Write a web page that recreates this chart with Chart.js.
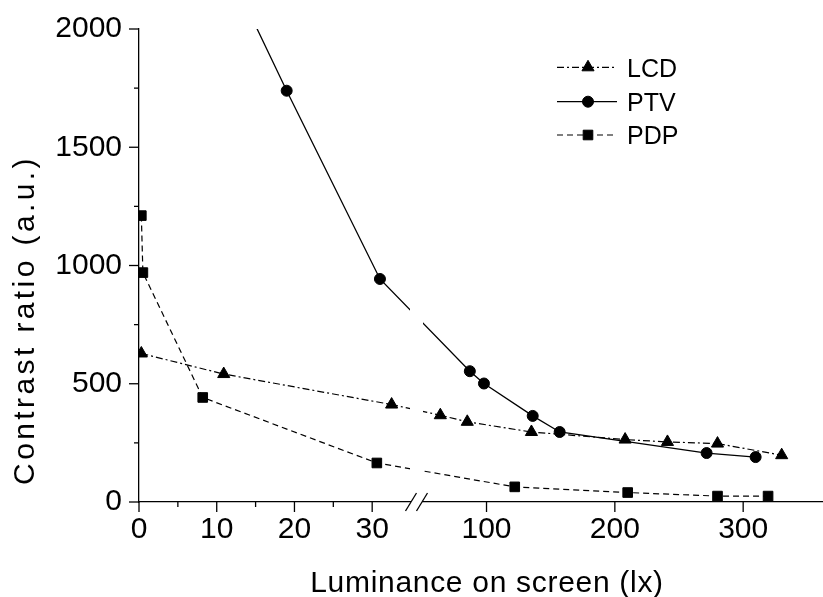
<!DOCTYPE html>
<html><head><meta charset="utf-8">
<script src="https://cdn.jsdelivr.net/npm/chart.js@4.4.1/dist/chart.umd.min.js"></script>
<style>html,body{margin:0;padding:0;background:#fff;}canvas{display:block;}</style>
</head><body>
<canvas id="c" width="823" height="597"></canvas>
<script>
// ---- data ----
const seriesNames = ['LCD', 'PTV', 'PDP'];
const lcdX = [0.3, 10.9, 32.5, 64, 85, 135, 208, 241, 280, 330];
const lcdY = [628, 541, 412, 367, 339, 296, 264, 254, 247, 198];
const ptvX = [12, 19.0, 31.0, 87, 98, 136, 157, 271.5, 309.7];
const ptvY = [2220, 1739, 943, 553, 501, 364, 296, 207, 190];
const pdpX = [0.3, 0.5, 8.2, 30.6, 122, 210, 280, 319.4];
const pdpY = [1211, 970, 442, 165, 64, 40, 25, 25];
const xTickValues = [0, 10, 20, 30, 100, 200, 300];
const xTickLabels = ['0', '10', '20', '30', '100', '200', '300'];
const xMinorTicks = [5, 15, 25];
const yTickValues = [0, 500, 1000, 1500, 2000];
const yTickLabels = ['0', '500', '1000', '1500', '2000'];
const yMinorTicks = [250, 750, 1250, 1750];
const xTitle = 'Luminance on screen (lx)';
const yTitle = 'Contrast ratio (a.u.)';

// ---- broken x axis: segment 1 (0..~36) linear, segment 2 (~50..350) compressed ----
const SPLIT = 40, SEG2_ORIGIN = 100, SEG2_AT = 44.71, SEG2_SCALE = 0.1651;
function toAxis(x) { return x < SPLIT ? x : SEG2_AT + (x - SEG2_ORIGIN) * SEG2_SCALE; }
const BREAK_L = 410, BREAK_R = 423;

const FONT = "'Liberation Sans', Arial, Helvetica, sans-serif";
const pts = (xs, ys) => xs.map((x, i) => ({ x: toAxis(x), y: ys[i] }));

const styles = [
  { dash: [7, 3, 2, 3], point: 'triangle', r: 7, lw: 1.2 },
  { dash: [], point: 'circle', r: 5.5, lw: 1.3 },
  { dash: [6, 4], point: 'rect', r: 6.8, lw: 1.2 }
];
const seriesData = [pts(lcdX, lcdY), pts(ptvX, ptvY), pts(pdpX, pdpY)];

function drawMarker(ctx, style, x, y, r) {
  ctx.beginPath();
  if (style === 'triangle') {
    for (let k = 0; k < 3; k++) {
      const a = k * 2 * Math.PI / 3;
      const px = x + Math.sin(a) * r, py = y - Math.cos(a) * r;
      k ? ctx.lineTo(px, py) : ctx.moveTo(px, py);
    }
    ctx.closePath();
  } else if (style === 'circle') {
    ctx.arc(x, y, r, 0, Math.PI * 2);
  } else {
    const s = Math.SQRT1_2 * r;
    ctx.rect(x - s, y - s, 2 * s, 2 * s);
  }
  ctx.fill(); ctx.stroke();
}

const decor = {
  id: 'decor',
  afterDatasetsDraw(chart) {
    const { ctx, chartArea } = chart;
    ctx.save();
    ctx.fillStyle = '#fff';
    ctx.fillRect(BREAK_L, chartArea.top - 2, BREAK_R - BREAK_L, chartArea.bottom - chartArea.top - 1);
    ctx.restore();
  },
  afterDraw(chart) {
    const { ctx, chartArea, scales } = chart;
    const xs = scales.x, ys = scales.y;
    const ax = chartArea.left, ay = chartArea.bottom;
    ctx.save();
    ctx.strokeStyle = '#000'; ctx.lineWidth = 1.3;
    // y ticks
    yTickValues.forEach(v => { const p = ys.getPixelForValue(v); ctx.beginPath(); ctx.moveTo(ax - 10, p); ctx.lineTo(ax, p); ctx.stroke(); });
    yMinorTicks.forEach(v => { const p = ys.getPixelForValue(v); ctx.beginPath(); ctx.moveTo(ax - 5, p); ctx.lineTo(ax, p); ctx.stroke(); });
    // x ticks
    xTickValues.forEach(v => { const p = xs.getPixelForValue(toAxis(v)); ctx.beginPath(); ctx.moveTo(p, ay); ctx.lineTo(p, ay + 10); ctx.stroke(); });
    xMinorTicks.forEach(v => { const p = xs.getPixelForValue(toAxis(v)); ctx.beginPath(); ctx.moveTo(p, ay); ctx.lineTo(p, ay + 5); ctx.stroke(); });
    // axis break
    ctx.fillStyle = '#fff';
    ctx.fillRect(BREAK_L + 1, ay - 3, BREAK_R - BREAK_L - 2, 6);
    [411, 422].forEach(cx => { ctx.beginPath(); ctx.moveTo(cx - 5.5, ay + 9); ctx.lineTo(cx + 5.5, ay - 9); ctx.stroke(); });
    // axis titles
    ctx.fillStyle = '#000';
    ctx.font = '30px ' + FONT;
    ctx.textAlign = 'center'; ctx.textBaseline = 'alphabetic';
    ctx.letterSpacing = '0.7px';
    ctx.fillText(xTitle, 487, 591.5);
    ctx.save();
    ctx.translate(34, 320); ctx.rotate(-Math.PI / 2);
    ctx.letterSpacing = '3.4px';
    ctx.fillText(yTitle, 0, 0);
    ctx.restore();
    ctx.letterSpacing = '0px';
    // legend
    const rows = [67.3, 101.7, 135];
    ctx.font = '25px ' + FONT; ctx.textAlign = 'left';
    seriesNames.forEach((name, i) => {
      const st = styles[i], yy = rows[i];
      ctx.save();
      ctx.lineWidth = st.lw; ctx.setLineDash(st.dash);
      ctx.beginPath(); ctx.moveTo(557, yy); ctx.lineTo(617, yy); ctx.stroke();
      ctx.restore();
      ctx.fillStyle = '#000'; ctx.lineWidth = 1;
      drawMarker(ctx, st.point, 588, yy, st.r);
      ctx.fillText(name, 627, yy + 9.2);
    });
    ctx.restore();
  }
};

new Chart(document.getElementById('c'), {
  type: 'line',
  data: {
    datasets: seriesNames.map((name, i) => ({
      label: name,
      data: seriesData[i],
      borderColor: '#000',
      backgroundColor: '#000',
      borderWidth: styles[i].lw,
      borderDash: styles[i].dash,
      pointStyle: styles[i].point,
      pointRadius: styles[i].r,
      pointBorderWidth: 1,
      pointBorderColor: '#000',
      pointBackgroundColor: '#000',
      tension: 0,
      fill: false
    }))
  },
  options: {
    responsive: false,
    animation: false,
    devicePixelRatio: 1,
    layout: { autoPadding: false, padding: { left: 0, right: 0, top: 29, bottom: 0 } },
    plugins: { legend: { display: false }, tooltip: { enabled: false } },
    scales: {
      x: {
        type: 'linear', min: 0, max: 88.0,
        afterBuildTicks: s => { s.ticks = xTickValues.map(v => ({ value: toAxis(v) })); },
        afterFit: s => { s.height = 95; s.paddingLeft = 0; s.paddingRight = 0; },
        grid: { display: false, drawTicks: false },
        border: { display: true, color: '#000', width: 1.3 },
        ticks: { autoSkip: false, maxRotation: 0, padding: 10, color: '#000', font: { family: FONT, size: 30 },
          callback: (v, i) => xTickLabels[i] }
      },
      y: {
        min: 0, max: 2000,
        afterBuildTicks: s => { s.ticks = yTickValues.map(v => ({ value: v })); },
        afterFit: s => { s.width = 139; s.paddingTop = 0; s.paddingBottom = 0; },
        grid: { display: false, drawTicks: false },
        border: { display: true, color: '#000', width: 1.3 },
        ticks: { padding: 17, color: '#000', font: { family: FONT, size: 30 },
          callback: (v, i) => yTickLabels[i] }
      }
    }
  },
  plugins: [decor]
});
</script>
</body></html>
